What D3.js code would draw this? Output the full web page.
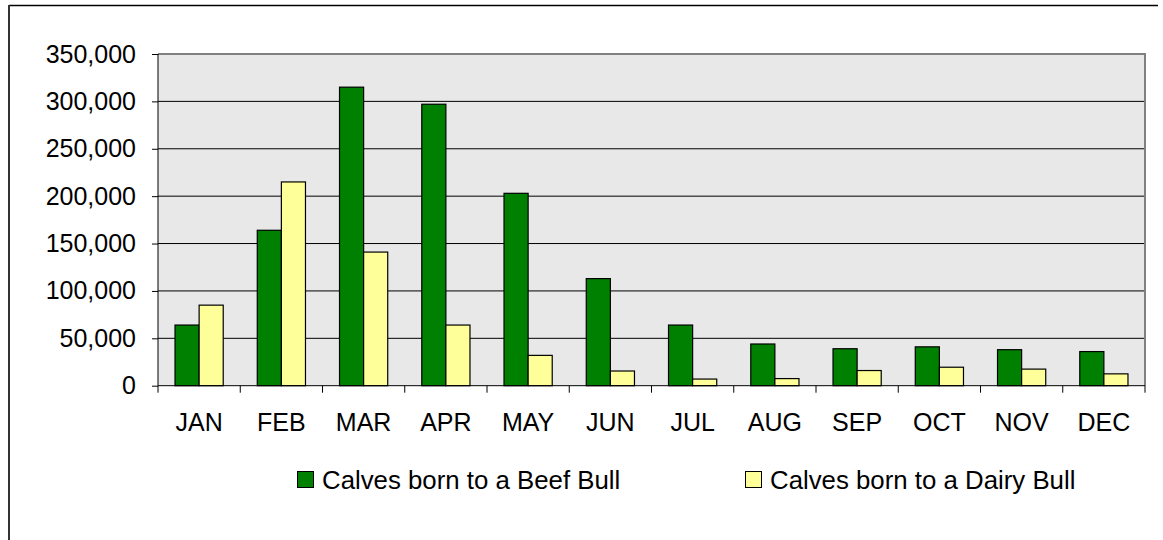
<!DOCTYPE html>
<html>
<head>
<meta charset="utf-8">
<script src="https://cdn.jsdelivr.net/npm/d3@7"></script>
<style>
  html, body { margin: 0; padding: 0; background: #fff; }
  svg { display: block; font-family: "Liberation Sans", Arial, sans-serif; }
</style>
</head>
<body>
<svg id="chart" width="1163" height="540"></svg>
<script>
const months = ["JAN","FEB","MAR","APR","MAY","JUN","JUL","AUG","SEP","OCT","NOV","DEC"];
const beefBull = [64000, 164000, 315000, 297000, 203000, 113000, 64000, 44000, 39000, 41000, 38000, 36000];
const dairyBull = [85000, 215000, 141000, 64000, 32000, 15500, 7000, 7500, 16000, 19500, 17500, 12500];
const seriesNames = ["Calves born to a Beef Bull", "Calves born to a Dairy Bull"];
const seriesColors = ["#008000", "#FFFF99"];
const yTicks = [0, 50000, 100000, 150000, 200000, 250000, 300000, 350000];

const svg = d3.select("#chart");
const W = 1163, H = 540;
const plot = {left: 158, right: 1145, top: 54, bottom: 385.7};

// outer frame (top and left edges visible)
svg.append("line").attr("x1", 9).attr("x2", 1158).attr("y1", 5.5).attr("y2", 5.5)
  .attr("stroke", "#000").attr("stroke-width", 1.5);
svg.append("line").attr("x1", 9).attr("x2", 9).attr("y1", 5).attr("y2", H)
  .attr("stroke", "#333").attr("stroke-width", 2);

const x0 = d3.scaleBand().domain(months).range([plot.left, plot.right]).padding(0);
const bw = x0.bandwidth();
const x1 = d3.scaleBand().domain(seriesNames).range([bw * 0.207, bw * 0.793]).padding(0);
const y = d3.scaleLinear().domain([0, 350000]).range([plot.bottom, plot.top]);

// plot background
svg.append("rect").attr("x", plot.left).attr("y", plot.top)
  .attr("width", plot.right - plot.left).attr("height", plot.bottom - plot.top)
  .attr("fill", "#E8E8E8");

// gridlines
svg.append("g").selectAll("line").data(yTicks.filter(d => d > 0 && d < 350000)).join("line")
  .attr("x1", plot.left).attr("x2", plot.right)
  .attr("y1", d => y(d)).attr("y2", d => y(d))
  .attr("stroke", "#000").attr("stroke-width", 1);

// plot border top/right
svg.append("path")
  .attr("d", `M${plot.left},${plot.top}H${plot.right}V${plot.bottom}`)
  .attr("fill", "none").attr("stroke", "#808080").attr("stroke-width", 2);

// bars
const data = months.map((m, i) => ({month: m, values: [beefBull[i], dairyBull[i]]}));
const groups = svg.append("g").selectAll("g").data(data).join("g")
  .attr("transform", d => `translate(${x0(d.month)},0)`);
groups.selectAll("rect").data(d => d.values.map((v, k) => ({v, k}))).join("rect")
  .attr("x", d => x1(seriesNames[d.k]))
  .attr("y", d => y(d.v))
  .attr("width", x1.bandwidth())
  .attr("height", d => y(0) - y(d.v))
  .attr("fill", d => seriesColors[d.k])
  .attr("stroke", "#000").attr("stroke-width", 1.2);

// y axis
const yAxis = d3.axisLeft(y).tickValues(yTicks).tickFormat(d3.format(",")).tickSize(6).tickPadding(16);
const gy = svg.append("g").attr("transform", `translate(${plot.left},0)`).call(yAxis);
gy.select(".domain").attr("stroke", "#000").attr("d", `M0,${plot.top}V${plot.bottom}`);
gy.selectAll(".tick line").attr("stroke", "#000");
gy.selectAll(".tick text").attr("font-size", 25).attr("fill", "#000")
  .attr("font-family", "'Liberation Sans', Arial, sans-serif");

// x axis
const gx = svg.append("g");
gx.append("line").attr("x1", plot.left).attr("x2", plot.right)
  .attr("y1", plot.bottom).attr("y2", plot.bottom).attr("stroke", "#000").attr("stroke-width", 1);
const bounds = months.map(m => x0(m)).concat([x0(months[months.length - 1]) + bw]);
gx.selectAll("line.tk").data(bounds).join("line").attr("class", "tk")
  .attr("x1", d => d).attr("x2", d => d)
  .attr("y1", plot.bottom).attr("y2", plot.bottom + 7)
  .attr("stroke", "#000");
gx.selectAll("text").data(months).join("text")
  .attr("x", d => x0(d) + bw / 2).attr("y", 431)
  .attr("text-anchor", "middle").attr("font-size", 25).attr("fill", "#000")
  .text(d => d);

// legend
const legendPos = [297, 745];
const lg = svg.append("g").selectAll("g").data(seriesNames).join("g")
  .attr("transform", (d, i) => `translate(${legendPos[i]},471)`);
lg.append("rect").attr("x", 0.5).attr("y", 0.5).attr("width", 16).attr("height", 16)
  .attr("fill", (d, i) => seriesColors[i]).attr("stroke", "#000").attr("stroke-width", 1);
lg.append("text").attr("x", 25).attr("y", 17.5).attr("font-size", 25.8).attr("fill", "#000")
  .text(d => d);
</script>
</body>
</html>
